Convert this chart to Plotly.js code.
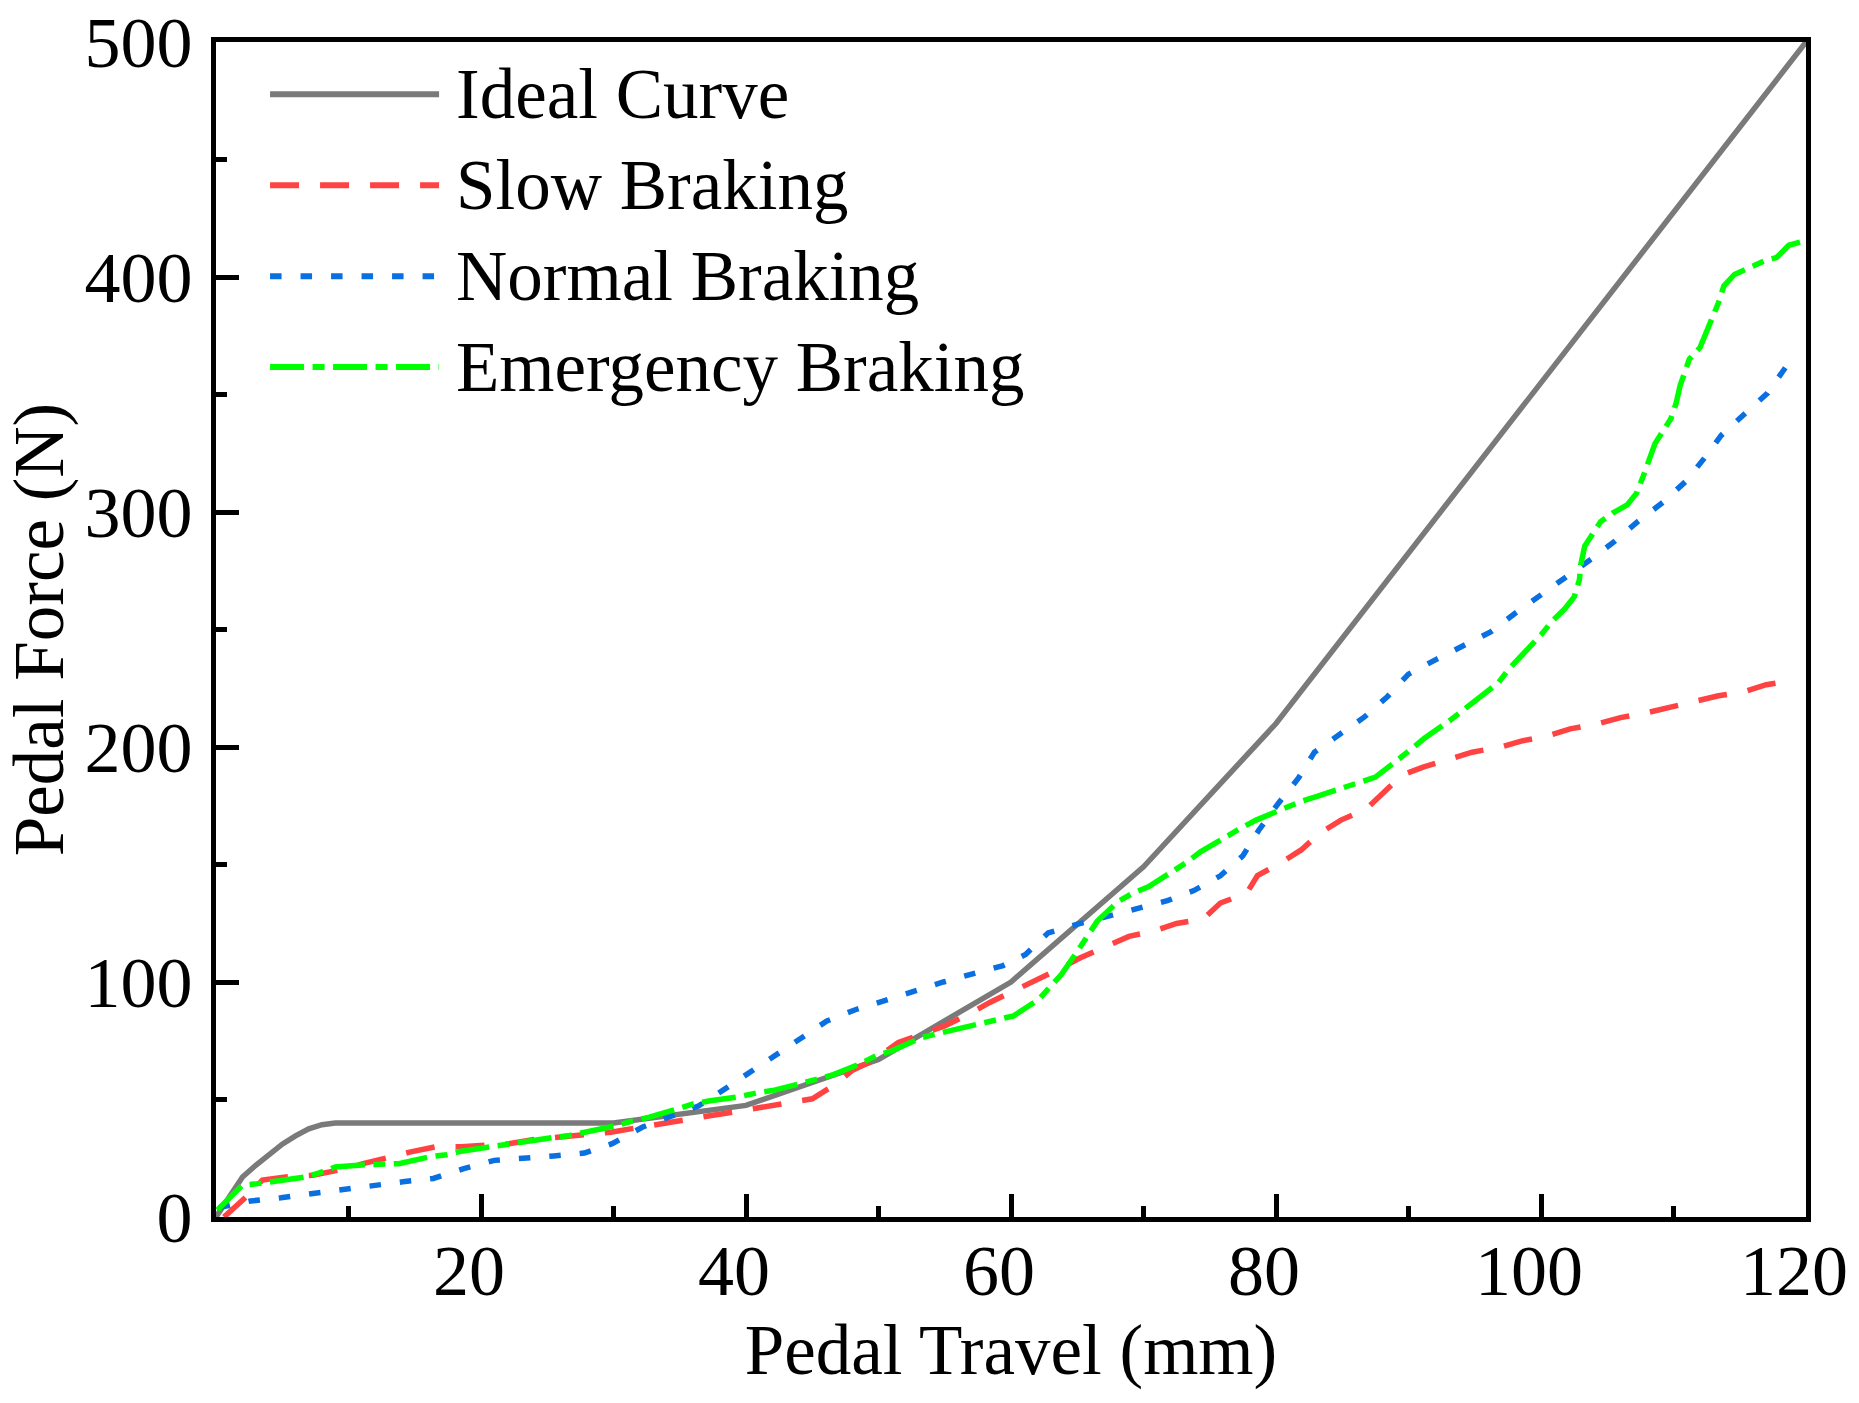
<!DOCTYPE html>
<html>
<head>
<meta charset="utf-8">
<script src="https://cdn.plot.ly/plotly-3.0.1.min.js"></script>
<style>
  html, body { margin: 0; padding: 0; background: #fff; }
  #graph { width: 1859px; height: 1403px; }
</style>
</head>
<body>
<div id="graph"></div>
<script>
// values
var seriesNames = ["Ideal Curve", "Slow Braking", "Normal Braking", "Emergency Braking"];

var idealX = [0, 1, 2, 3, 4, 5, 6, 7, 8, 9, 10, 20, 30, 40, 50, 60, 70, 80, 90, 100, 110, 120];
var idealY = [0, 9, 17, 22, 26.5, 31, 34.5, 37.5, 39.3, 40, 40, 40, 40, 47.5, 67, 100, 149, 210, 282.5, 355, 427.5, 500];

var slowX = [0.6, 2.1, 3.5, 5.4, 7.3, 9.2, 11.1, 13, 14.7, 16.6, 18.5, 20.3, 22.1, 24, 26, 27.9, 29.8, 31.7, 33.6, 35.5,
  37.4, 39.3, 41.1, 43.1, 45, 46.6, 48, 49.6, 51.5, 53.3, 55, 56.8, 58.4, 60.2, 61.8, 63.6, 65.2, 67, 68.9, 70.7,
  72.5, 74.5, 75.8, 77.8, 78.6, 80.3, 81.9, 83.3, 84.9, 86.8, 88, 89.5, 91.1, 93.1, 94.8, 96.9, 98.5, 100.4, 102.2, 104.2,
  106, 108, 109.7, 111.6, 113.4, 115.4, 117, 119.2];
var slowY = [0, 7.6, 15.7, 17.1, 17.8, 19.9, 22.7, 25.4, 27.7, 29.9, 29.9, 30.6, 31.2, 33, 34.1, 35.2, 36.1, 37.9, 39.7, 41.9,
  43.2, 44.9, 46.5, 48.5, 50.3, 55.9, 62.3, 66.6, 74.3, 77.9, 81.3, 86.3, 91.3, 96.2, 100.4, 105.4, 110.2, 114.6, 119.4, 121.6,
  124.9, 126.8, 133.6, 137.9, 145.3, 150.5, 156.2, 163.3, 168.9, 173.6, 180.2, 188, 191.4, 195, 197.8, 199.9, 202.5, 204.6, 207.7, 209.8,
  212.5, 214.6, 216.9, 219, 221.8, 223.6, 226.5, 228.5];

var normalX = [0.2, 2.6, 4.9, 7.25, 9.5, 11.8, 14.1, 16.4, 18.7, 21, 23.3, 25.5, 27.8, 29.9, 32.2, 34.3, 36.4, 38.3, 40.2, 42.2,
  44.1, 46.1, 48.2, 50.4, 52.6, 54.9, 57.1, 59.4, 61.1, 62.8, 65.1, 67.3, 69.5, 71.8, 73.8, 75.8, 77.5, 78.7, 80.2, 81.7,
  82.9, 84.8, 86.7, 88.4, 90, 92.1, 94.1, 96.2, 98, 100, 101.9, 103.8, 105.6, 107.3, 109.2, 110.9, 112.3, 113.6, 115.3, 117.1,
  118.7];
var normalY = [4, 6.8, 8.2, 10, 11.7, 13.6, 15, 16.4, 20.6, 24.1, 24.8, 26, 27.2, 31.2, 38.3, 42.5, 47.2, 54.1, 61.3, 68.9,
  75.9, 83.4, 88.1, 92.2, 96.1, 100, 103.5, 107, 111.7, 120.9, 124.7, 127.9, 131.2, 134.6, 138.9, 145.2, 153.7, 164.6, 176.2, 186.8,
  197.8, 205.6, 212.9, 221.4, 231, 237.3, 242.7, 249, 256.7, 264.5, 272.2, 280, 287.7, 295.9, 304.1, 312.9, 322.7, 332.6, 341.4, 350.6,
  363.5];

var emergencyX = [0.1, 2, 2.9, 4.4, 6.8, 7.8, 9, 11.4, 12.6, 13.8, 16.1, 17.4, 18.5, 20.8, 22, 23.3, 25.7, 26.7, 27.9, 30.3,
  31.4, 32.7, 34.8, 36, 37.3, 39.5, 40.8, 42, 44.2, 45.5, 46.6, 48.7, 49.8, 51, 53.3, 54.3, 55.6, 57.9, 59.1, 60.2,
  62.1, 62.9, 63.8, 65.1, 65.7, 66.5, 68.1, 69.2, 70.4, 72.2, 73.2, 74.3, 76.3, 77.3, 78.5, 80.7, 81.9, 83.1, 85.3, 86.4,
  87.5, 89.3, 90.2, 91.2, 93.1, 94.1, 95.1, 96.8, 97.5, 98.5, 100, 100.8, 101.8, 102.5, 102.9, 103, 103.3, 104.5, 105.4, 106.5,
  107.2, 107.7, 108.1, 108.6, 109.8, 110.2, 110.5, 111.2, 112, 112.6, 113.4, 113.8, 114.6, 116.8, 117.8, 118.7, 120];
var emergencyY = [3, 13.6, 14, 15, 17.1, 18.8, 21.3, 22.3, 22.5, 22.7, 25.6, 26.5, 28, 30.1, 30.9, 31.9, 34, 34.7, 36.1, 39,
  40.8, 42.5, 46, 48.1, 49.5, 51.2, 52.8, 53.8, 56.9, 58.7, 60.6, 65.4, 68.6, 70.7, 76.4, 77.8, 79.5, 82.5, 83.7, 85.6,
  92.6, 97.6, 103.2, 113.8, 119.4, 125.8, 134.3, 137.8, 140.6, 146.7, 150.7, 155.4, 162.2, 165.3, 168.9, 174.1, 176.9, 179, 183, 184.8,
  187.2, 195, 199.2, 203.7, 211.2, 215.4, 219.7, 227.4, 232.7, 238.5, 247.7, 253.3, 258.8, 263.8, 271.2, 277.6, 285.5, 295.9, 299.5, 303,
  307.9, 315, 321.6, 329.1, 339.7, 346.3, 353.8, 365.1, 370, 377.8, 389.1, 396.2, 401.1, 406.7, 408.4, 413.5, 415.6];

var xTicks = [20, 40, 60, 80, 100, 120];
var xMinorTicks = [10, 30, 50, 70, 90, 110];
var yTicks = [0, 100, 200, 300, 400, 500];
var yMinorTicks = [50, 150, 250, 350, 450];

var colors = ["#7a7a7a", "#ff4242", "#0a6fe0", "#00ff00"];
var dashes = ["solid", "29px,21px", "11.5px,19px", "34px,8.5px,12px,8.5px"];
var FONT = "Liberation Serif, Times New Roman, serif";

function plotPedal() {
  var xs = [idealX, slowX, normalX, emergencyX];
  var ys = [idealY, slowY, normalY, emergencyY];
  var data = [];
  for (var i = 0; i < seriesNames.length; i++) {
    data.push({
      x: xs[i],
      y: ys[i],
      mode: "lines",
      type: "scatter",
      name: seriesNames[i],
      line: { color: colors[i], width: 5.5, dash: dashes[i] },
      showlegend: false
    });
  }

  // hand-made legend, Plotly's own symbol line is too short
  var shapes = [];
  var annotations = [];
  for (var j = 0; j < seriesNames.length; j++) {
    var yy = 0.9555 - j * 0.0774;
    shapes.push({
      type: "line", xref: "paper", yref: "paper",
      x0: 0.034, x1: 0.1403, y0: yy, y1: yy,
      line: { color: colors[j], width: 6, dash: dashes[j] }
    });
    annotations.push({
      xref: "paper", yref: "paper", x: 0.1495, y: yy,
      xanchor: "left", yanchor: "middle", showarrow: false,
      text: seriesNames[j],
      font: { family: FONT, size: 71, color: "#000" }
    });
  }

  var axisCommon = {
    showline: true, linewidth: 5, linecolor: "#000", mirror: true,
    showgrid: false, zeroline: false,
    ticks: "inside", ticklen: 23, tickwidth: 5, tickcolor: "#000",
    ticklabeloverflow: "allow",
    tickfont: { family: FONT, size: 72, color: "#000" }
  };

  var layout = {
    width: 1859,
    height: 1403,
    margin: { l: 216, r: 53, t: 42, b: 186 },
    paper_bgcolor: "#fff",
    plot_bgcolor: "#fff",
    showlegend: false,
    xaxis: Object.assign({}, axisCommon, {
      range: [0, 120],
      tickmode: "array",
      tickvals: xTicks,
      ticktext: xTicks.map(String),
      ticklabelstandoff: -13,
      ticklabelshift: -12,
      minor: { tickmode: "array", tickvals: xMinorTicks, ticks: "inside", ticklen: 11, tickwidth: 5, tickcolor: "#000" },
      title: { text: "Pedal Travel (mm)", font: { family: FONT, size: 71, color: "#000" }, standoff: 8 }
    }),
    yaxis: Object.assign({}, axisCommon, {
      range: [0, 500],
      tickmode: "array",
      tickvals: yTicks,
      ticktext: yTicks.map(String),
      ticklabelstandoff: 4,
      minor: { tickmode: "array", tickvals: yMinorTicks, ticks: "inside", ticklen: 11, tickwidth: 5, tickcolor: "#000" },
      title: { text: "Pedal Force (N)", font: { family: FONT, size: 71, color: "#000" }, standoff: 14 }
    }),
    shapes: shapes,
    annotations: annotations
  };

  Plotly.newPlot("graph", data, layout, { displayModeBar: false, staticPlot: true });
}
plotPedal();
</script>
</body>
</html>
